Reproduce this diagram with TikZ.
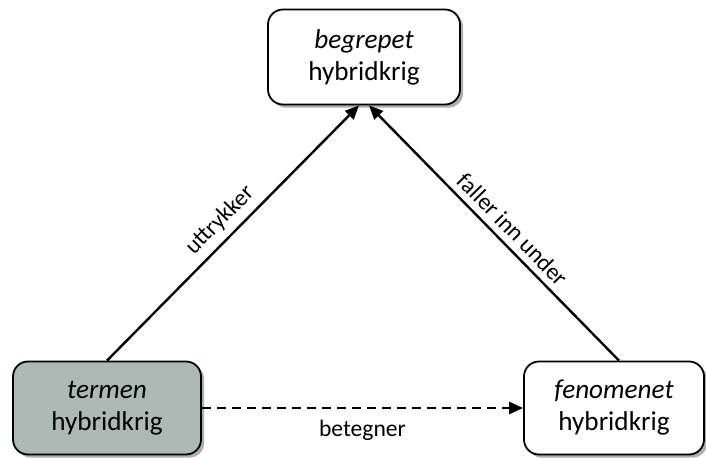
\documentclass[tikz,border=0pt]{standalone}
\usepackage{fontspec}
\setmainfont{Carlito}
\usetikzlibrary{positioning, shadows, arrows.meta}
\definecolor{termgray}{HTML}{ADB9B5}

\begin{document}
\begin{tikzpicture}[
    x=0.5pt, y=-0.5pt,
    conceptbox/.style={rectangle, rounded corners=7.5pt, draw, line width=0.9pt,
        fill=white, align=center, inner sep=0pt,
        font=\fontsize{13.6}{16}\selectfont,
        drop shadow={shadow xshift=1.6pt, shadow yshift=-1.6pt, fill=black!45, opacity=0.7}},
    termbox/.style={conceptbox, fill=termgray},
    relation/.style={-{Triangle[length=7pt, width=6pt]}, line width=1.2pt},
    relabel/.style={font=\fontsize{11.8}{13}\selectfont}
]
\useasboundingbox (0,0) rectangle (706,458);

% The three corners of the triangle
\node[conceptbox, minimum width=96pt, minimum height=47.5pt] (begrep) at (364,57)
    {\textit{begrepet} \\ hybridkrig};
\node[termbox, minimum width=94pt, minimum height=46.5pt] (termen) at (107,408)
    {\textit{termen} \\ hybridkrig};
\node[conceptbox, minimum width=90pt, minimum height=46.5pt] (fenomen) at (614,408)
    {\textit{fenomenet} \\ hybridkrig};

% Relations
\draw[relation] (termen.north) -- node[relabel, above, sloped, pos=0.5] {uttrykker}
    ([xshift=-2.5pt]begrep.south);
\draw[relation] ([xshift=2.5pt]fenomen.north) -- node[relabel, above, sloped, pos=0.47] {faller inn under}
    ([xshift=2.5pt]begrep.south);
\draw[relation, dashed, dash pattern=on 4.5pt off 3pt] (termen.east) -- node[relabel, below=2pt] {betegner}
    (fenomen.west);

\end{tikzpicture}
\end{document}
